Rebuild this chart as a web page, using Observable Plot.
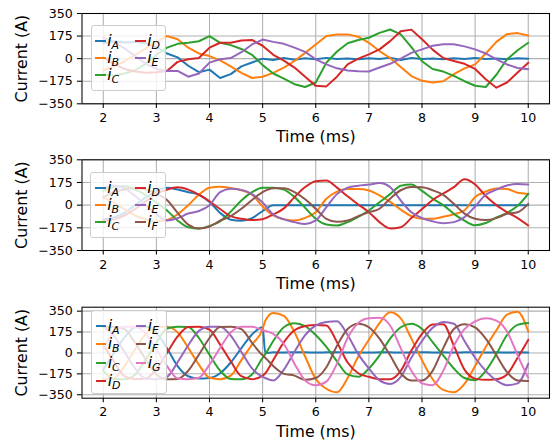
<!DOCTYPE html>
<html><head><meta charset="utf-8">
<script src="https://cdn.jsdelivr.net/npm/d3@7"></script>
<script src="https://cdn.jsdelivr.net/npm/@observablehq/plot@0.6"></script>
<style>
body{margin:0;background:#fff;}
#wrap{position:relative;width:560px;height:443px;font-family:"DejaVu Sans",sans-serif;overflow:hidden;}
.panel{position:absolute;left:0;width:560px;}
.legend{position:absolute;background:rgba(255,255,255,0.8);border:1px solid #cccccc;border-radius:3px;box-sizing:border-box;}
.item{position:absolute;height:18px;display:flex;align-items:center;white-space:nowrap;}
.sw{width:10.7px;height:2px;flex:none;}
.lab{font-family:"DejaVu Sans",sans-serif;font-style:italic;font-size:15.8px;margin-left:1.5px;line-height:1;}
.lab sub{font-size:11px;font-style:italic;vertical-align:-3px;line-height:0;}
</style></head><body><div id="wrap"></div>
<script>
// ---------- shared ticks / labels ----------
const xTicks = [2, 3, 4, 5, 6, 7, 8, 9, 10];
const yTicks = [-350, -175, 0, 175, 350];
const colors = ["#1f77b4", "#ff7f0e", "#2ca02c", "#d62728", "#9467bd", "#8c564b", "#e377c2"];
const phaseLetters = ["A", "B", "C", "D", "E", "F", "G"];

// ---------- top panel (5 phases) ----------
const tTop = [2.0,2.2,2.4,2.6,2.8,3.0,3.2,3.4,3.6,3.8,4.0,4.2,4.4,4.6,4.8,5.0,5.2,5.4,5.6,5.8,6.0,6.2,6.4,6.6,6.8,7.0,7.2,7.4,7.6,7.8,8.0,8.2,8.4,8.6,8.8,9.0,9.2,9.4,9.6,9.8,10.0];
const topA = [120,135,125,130,120,90,40,10,-55,-105,-85,-150,-120,-60,-30,0,-10,5,-8,3,-4,6,-3,2,-5,4,-2,8,-10,5,-3,2,-4,3,-2,5,-3,2,-4,3,0];
const topB = [-90,-60,-20,30,80,130,175,150,85,40,20,-13,-60,-110,-150,-140,-110,-70,-18,45,110,175,188,188,170,123,59,5,-65,-135,-172,-185,-175,-120,-75,-44,40,130,190,198,180];
const topC = [-120,-130,-115,-90,-40,30,85,115,123,135,175,123,105,75,30,-50,-115,-155,-198,-220,-185,-31,55,120,145,162,200,226,188,90,-20,-80,-100,-134,-175,-210,-220,-125,-5,65,123];
const topD = [10,-40,-80,-100,-110,-105,-95,-25,-5,5,85,123,123,140,145,100,30,-15,-69,-140,-211,-215,-140,-44,0,33,72,136,213,225,150,70,5,-18,-40,-80,-160,-225,-185,-108,-31];
const topE = [160,130,80,20,-40,-80,-95,-95,-140,-115,-31,-5,5,50,110,148,130,115,85,52,-5,-44,-75,-92,-97,-100,-69,-40,0,45,72,100,112,112,95,72,40,-5,-45,-72,-82];

// ---------- middle panel (6 phases) ----------
const tMid = tTop;
const midA = [-110,-95,-60,0,60,110,134,120,100,80,25,-60,-112,-120,-100,-45,0,0,0,0,0,0,0,0,0,0,0,0,0,0,0,0,0,0,0,0,0,0,0,0,0];
const midB = [60,20,-30,-80,-110,-125,-115,-70,0,80,135,142,132,115,80,-10,-80,-108,-118,-98,-54,49,105,124,124,113,75,25,-35,-85,-105,-105,-90,-70,-40,62,105,128,125,95,87];
const midC = [110,140,145,120,80,20,-41,-118,-170,-180,-160,-125,-50,36,100,135,135,120,62,-20,-105,-149,-157,-131,-90,-41,23,85,150,160,110,50,0,-67,-120,-155,-138,-95,-60,-5,87];
const midD = [-120,-110,-80,-30,30,85,120,138,120,82,30,-30,-85,-105,-115,-108,-72,-25,62,140,185,190,135,68,5,-54,-131,-180,-170,-100,-30,40,90,139,200,160,70,0,-54,-100,-157];
const midE = [130,150,130,70,0,-70,-118,-100,-65,-45,0,100,126,118,85,20,-72,-110,-131,-145,-118,-15,85,135,150,159,170,139,36,-55,-100,-125,-139,-131,-92,-10,80,120,152,163,159];
const midF = [60,100,120,130,120,90,40,-60,-150,-180,-165,-120,-85,-28,40,100,130,130,100,45,-28,-105,-128,-118,-85,-54,-28,50,115,140,138,115,80,10,-65,-105,-115,-100,-67,-55,10];

// ---------- bottom panel (7 phases) ----------
const tBot = [2.0,2.2,2.4,2.6,2.8,3.0,3.2,3.4,3.6,3.8,4.0,4.2,4.4,4.6,4.8,5.0,5.05,5.2,5.4,5.6,5.8,6.0,6.2,6.4,6.6,6.8,7.0,7.2,7.4,7.6,7.8,8.0,8.2,8.4,8.6,8.8,9.0,9.2,9.4,9.6,9.8,10.0];
const botA = [-140,0,130,215,220,170,40,-110,-195,-215,-210,-170,-80,40,155,215,0,5,4,6,5,3,5,6,4,5,3,6,5,4,5,6,4,5,3,5,6,4,5,4,5,4];
const botB = [-220,-213,-110,30,160,220,220,172,42,-98,-208,-220,-190,-60,70,200,270,335,310,174,-30,-217,-300,-330,-210,-30,110,250,340,290,120,-60,-220,-310,-330,-260,-110,50,190,320,345,180];
const botC = [-150,-218,-220,-180,-55,85,205,220,218,125,-15,-148,-218,-220,-180,-40,-10,100,215,248,225,150,50,-70,-180,-200,-130,-20,120,215,244,200,90,-20,-130,-210,-228,-150,-10,150,235,250];
const botD = [70,-70,-195,-220,-215,-136,0,138,218,220,195,70,-70,-195,-220,-190,-170,-60,90,190,225,235,230,90,-80,-170,-200,-220,-220,-150,20,160,238,240,60,-140,-215,-225,-220,-180,-40,110];
const botE = [220,145,8,-130,-217,-220,-200,-78,64,185,220,220,145,8,-130,-200,-210,-230,-140,10,150,230,260,265,150,-10,-130,-230,-260,-200,-40,100,210,260,245,100,-40,-150,-230,-270,-255,-90];
const botF = [218,220,200,85,-55,-180,-220,-218,-148,-15,125,218,220,200,85,-20,-40,-110,-175,-190,-225,-210,-120,60,200,245,215,120,-20,-170,-230,-230,-150,40,200,240,215,120,-20,-160,-230,-235];
const botG = [42,172,220,220,160,30,-110,-213,-220,-208,-98,42,172,220,220,190,185,160,75,-90,-230,-270,-240,-90,125,250,290,295,230,40,-150,-255,-270,-150,60,200,265,290,270,180,-20,-210];

const fmt = d => d < 0 ? "\u2212" + (-d) : String(d);
const wrap = document.getElementById("wrap");

function makePanel(cfg) {
  const {times, series, yDomain, top, height, mTop, mBottom, curve, legend} = cfg;
  const marks = [
    Plot.gridX({ticks: xTicks, stroke: "#b0b0b0", strokeOpacity: 1, strokeWidth: 1.06}),
    Plot.gridY({ticks: yTicks, stroke: "#b0b0b0", strokeOpacity: 1, strokeWidth: 1.06})
  ];
  series.forEach((vals, i) => {
    const rows = times.map((t, j) => ({t, v: vals[j]}));
    marks.push(Plot.line(rows, {x: "t", y: "v", stroke: colors[i], strokeWidth: 2, curve}));
  });
  marks.push(Plot.frame({stroke: "black", strokeWidth: 1.06}));
  marks.push(Plot.axisX({ticks: xTicks, tickSize: 4.6, tickPadding: 4.6, fontSize: 12.6, label: null, strokeWidth: 1.06, tickFormat: d => String(d)}));
  marks.push(Plot.axisY({ticks: yTicks, tickSize: 4.6, tickPadding: 4.6, fontSize: 12.6, label: null, strokeWidth: 1.06, tickFormat: fmt}));
  marks.push(Plot.text(["Time (ms)"], {frameAnchor: "bottom", dy: 33.4, fontSize: 15.8, lineAnchor: "middle", text: d => d, fill: "black"}));
  marks.push(Plot.text(["Current (A)"], {frameAnchor: "left", dx: -60.5, rotate: -90, fontSize: 15.8, lineAnchor: "middle", textAnchor: "middle", text: d => d, fill: "black"}));
  const chart = Plot.plot({
    width: 560, height,
    marginLeft: 81.5, marginRight: 11, marginTop: mTop, marginBottom: mBottom,
    x: {domain: [1.6, 10.4]},
    y: {domain: yDomain},
    style: {fontFamily: "DejaVu Sans", fontSize: "12.6px", background: "white", color: "black", overflow: "visible"},
    marks
  });
  const div = document.createElement("div");
  div.className = "panel";
  div.style.top = top + "px";
  div.style.height = height + "px";
  div.appendChild(chart);
  wrap.appendChild(div);

  // legend (inside axes, upper left, 2 columns)
  const lg = document.createElement("div");
  lg.className = "legend";
  lg.style.left = legend.left + "px";
  lg.style.top = legend.top + "px";
  lg.style.width = legend.w + "px";
  lg.style.height = legend.h + "px";
  const nRows = Math.ceil(series.length / 2);
  series.forEach((_, i) => {
    const col = Math.floor(i / nRows), row = i % nRows;
    const it = document.createElement("div");
    it.className = "item";
    it.style.left = (col === 0 ? legend.c1 : legend.c2) + "px";
    it.style.top = (legend.r0 + row * legend.dr - 9) + "px";
    it.innerHTML = `<div class="sw" style="background:${colors[i]}"></div><span class="lab">i<sub>${phaseLetters[i]}</sub></span>`;
    lg.appendChild(it);
  });
  wrap.appendChild(lg);
}

makePanel({times: tTop, series: [topA, topB, topC, topD, topE], yDomain: [-350, 350],
  top: 0, height: 147, mTop: 13, mBottom: 43.7, curve: "linear",
  legend: {left: 90.5, top: 24.5, w: 75.5, h: 66.5, c1: 3.5, c2: 43.5, r0: 15.5, dr: 17}});
makePanel({times: tMid, series: [midA, midB, midC, midD, midE, midF], yDomain: [-350, 350],
  top: 147, height: 147, mTop: 12.3, mBottom: 44, curve: "monotone-x",
  legend: {left: 90, top: 172, w: 76, h: 66, c1: 4, c2: 44, r0: 15, dr: 17.2}});
makePanel({times: tBot, series: [botA, botB, botC, botD, botE, botF, botG], yDomain: [-379, 383],
  top: 294, height: 149, mTop: 12.7, mBottom: 45.3, curve: "monotone-x",
  legend: {left: 91, top: 310, w: 76, h: 84, c1: 3.5, c2: 43.5, r0: 15, dr: 18.3}});
</script></body></html>
